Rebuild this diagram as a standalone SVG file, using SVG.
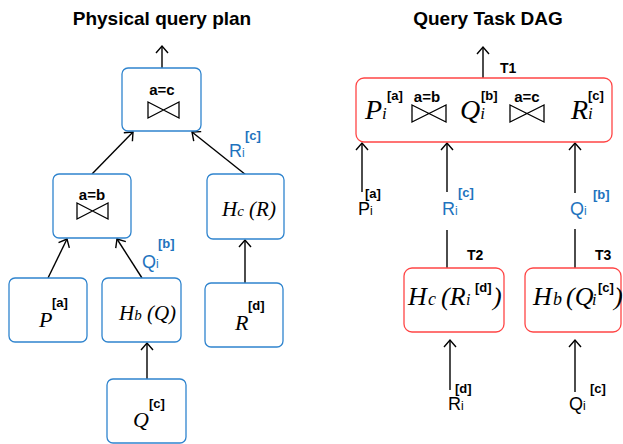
<svg xmlns="http://www.w3.org/2000/svg" width="623" height="444" viewBox="0 0 623 444">
  <defs>
    <marker id="arrow" markerUnits="userSpaceOnUse" markerWidth="16" markerHeight="16" refX="0" refY="0" orient="auto" overflow="visible">
      <path d="M-7,-6 L0,0 L-7,6" fill="none" stroke="#000" stroke-width="1.4"/>
    </marker>
    <path id="bowtie-s" d="M0,0 L31,16 L31,0 L0,16 Z"/>
    <path id="bowtie-l" d="M0,0 L34,17 L34,0 L0,17 Z"/>
  </defs>
  <style>
    .title { font-family: "Liberation Sans", Arial, sans-serif; font-weight: bold; font-size: 19px; fill: #000; text-anchor: middle; }
    .plan { fill: #fff; stroke: #2F84CE; stroke-width: 1.3; }
    .task { fill: #fff; stroke: #FF4545; stroke-width: 1.3; }
    .op { font-family: "Liberation Sans", Arial, sans-serif; font-weight: bold; font-size: 15px; fill: #000; }
    .tag { font-family: "Liberation Sans", Arial, sans-serif; font-weight: bold; font-size: 13px; fill: #000; }
    .tname { font-family: "Liberation Sans", Arial, sans-serif; font-weight: bold; font-size: 14px; fill: #000; }
    .math { font-family: "Liberation Serif", "Times New Roman", serif; font-style: italic; fill: #000; }
    .lbl { font-family: "Liberation Sans", Arial, sans-serif; font-size: 18px; fill: #000; }
    .blue { fill: #1E73BE; }
    .bow { fill: none; stroke: #000; stroke-width: 1.3; }
    .edge { fill: none; stroke: #000; stroke-width: 1.4; }
    .edge.arr { marker-end: url(#arrow); }
  </style>

  <!-- titles -->
  <text class="title" x="162" y="25">Physical query plan</text>
  <text class="title" x="488" y="25">Query Task DAG</text>

  <!-- connectors -->
  <g id="connectors">
    <!-- physical plan -->
    <line class="edge arr" x1="162" y1="68" x2="162" y2="46"/>
    <line class="edge arr" x1="92" y1="174" x2="133" y2="132"/>
    <line class="edge arr" x1="246" y1="175" x2="192" y2="132"/>
    <line class="edge arr" x1="48" y1="278" x2="67" y2="239"/>
    <line class="edge arr" x1="142" y1="278" x2="117" y2="239"/>
    <line class="edge arr" x1="245" y1="283" x2="245" y2="240"/>
    <line class="edge arr" x1="147" y1="379" x2="147" y2="343"/>
    <!-- task DAG -->
    <line class="edge arr" x1="483" y1="78" x2="483" y2="47"/>
    <line class="edge arr" x1="362" y1="192" x2="362" y2="143"/>
    <line class="edge arr" x1="447" y1="192" x2="447" y2="143"/>
    <line class="edge arr" x1="575" y1="193" x2="575" y2="143"/>
    <line class="edge" x1="447" y1="230" x2="447" y2="268"/>
    <line class="edge" x1="575" y1="229" x2="575" y2="268"/>
    <line class="edge arr" x1="450" y1="390" x2="450" y2="340"/>
    <line class="edge arr" x1="575" y1="392" x2="575" y2="340"/>

    <!-- edge labels -->
    <text class="lbl blue" x="229" y="157">R<tspan font-size="12">i</tspan></text>
    <text class="tag blue" x="245" y="140">[c]</text>
    <text class="lbl blue" x="142" y="268">Q<tspan font-size="12">i</tspan></text>
    <text class="tag blue" x="158" y="248">[b]</text>

    <text class="lbl" x="358" y="215">P<tspan font-size="12">i</tspan></text>
    <text class="tag" x="365" y="198">[a]</text>
    <text class="lbl blue" x="442" y="215">R<tspan font-size="12">i</tspan></text>
    <text class="tag blue" x="458" y="197">[c]</text>
    <text class="lbl blue" x="570" y="215">Q<tspan font-size="12">i</tspan></text>
    <text class="tag blue" x="593" y="199">[b]</text>
    <text class="lbl" x="448" y="410">R<tspan font-size="12">i</tspan></text>
    <text class="tag" x="455" y="393">[d]</text>
    <text class="lbl" x="569" y="410">Q<tspan font-size="12">i</tspan></text>
    <text class="tag" x="590" y="393">[c]</text>

    <text class="tname" x="500" y="73">T1</text>
    <text class="tname" x="467" y="260">T2</text>
    <text class="tname" x="595" y="260">T3</text>
  </g>

  <!-- physical plan nodes -->
  <g id="join-ac">
    <rect class="plan" x="122" y="68" width="79" height="63" rx="6"/>
    <text class="op" x="162" y="95" text-anchor="middle">a=c</text>
    <use href="#bowtie-s" class="bow" x="148" y="102"/>
  </g>
  <g id="join-ab">
    <rect class="plan" x="53" y="174" width="78" height="64" rx="6"/>
    <text class="op" x="92" y="200" text-anchor="middle">a=b</text>
    <use href="#bowtie-s" class="bow" x="77" y="203"/>
  </g>
  <g id="hash-r">
    <rect class="plan" x="207" y="174" width="77" height="65" rx="6"/>
    <text class="math" x="222" y="216" font-size="21">H<tspan font-size="15">c</tspan> (R)</text>
  </g>
  <g id="scan-p">
    <rect class="plan" x="9" y="278" width="78" height="64" rx="6"/>
    <text class="math" x="39" y="327" font-size="22">P</text>
    <text class="tag" x="52" y="307">[a]</text>
  </g>
  <g id="hash-q">
    <rect class="plan" x="102" y="278" width="79" height="64" rx="6"/>
    <text class="math" x="119" y="320" font-size="21">H<tspan font-size="15">b</tspan> (Q)</text>
  </g>
  <g id="scan-r">
    <rect class="plan" x="205" y="283" width="78" height="64" rx="6"/>
    <text class="math" x="235" y="330" font-size="22">R</text>
    <text class="tag" x="248" y="310">[d]</text>
  </g>
  <g id="scan-q">
    <rect class="plan" x="107" y="379" width="79" height="64" rx="6"/>
    <text class="math" x="133" y="427" font-size="22">Q</text>
    <text class="tag" x="149" y="408">[c]</text>
  </g>

  <!-- task DAG nodes -->
  <g id="task-t1">
    <rect class="task" x="356" y="78" width="256" height="64" rx="8"/>
    <text class="math" x="365" y="119" font-size="28">P<tspan font-size="17">i</tspan></text>
    <text class="tag" x="387" y="100" font-size="14">[a]</text>
    <text class="op" x="427" y="102" text-anchor="middle">a=b</text>
    <use href="#bowtie-l" class="bow" x="412" y="105"/>
    <text class="math" x="460" y="119" font-size="28">Q<tspan font-size="17">i</tspan></text>
    <text class="tag" x="481" y="100" font-size="14">[b]</text>
    <text class="op" x="527" y="102" text-anchor="middle">a=c</text>
    <use href="#bowtie-l" class="bow" x="510" y="105"/>
    <text class="math" x="571" y="119" font-size="28">R<tspan font-size="17">i</tspan></text>
    <text class="tag" x="588" y="100" font-size="14">[c]</text>
  </g>
  <g id="task-t2">
    <rect class="task" x="404" y="268" width="100" height="64" rx="8"/>
    <text class="math" y="305" font-size="26"><tspan x="408">H</tspan><tspan x="428" font-size="18">c</tspan><tspan x="441">(R</tspan><tspan x="466" font-size="16">i</tspan><tspan x="493">)</tspan></text>
    <text class="tag" x="475" y="292" font-size="14">[d]</text>
  </g>
  <g id="task-t3">
    <rect class="task" x="525" y="268" width="96" height="64" rx="8"/>
    <text class="math" y="305" font-size="26"><tspan x="533">H</tspan><tspan x="553" font-size="18">b</tspan><tspan x="566">(Q</tspan><tspan x="592" font-size="16">i</tspan><tspan x="614">)</tspan></text>
    <text class="tag" x="598" y="292" font-size="14">[c]</text>
  </g>
</svg>
